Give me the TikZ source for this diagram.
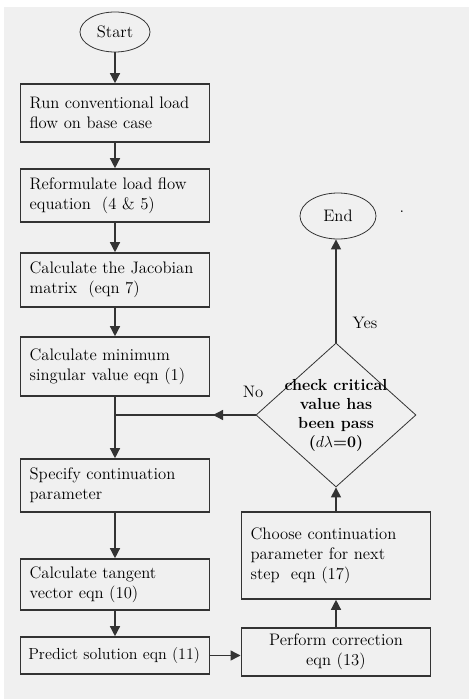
\documentclass[tikz,border=0pt]{standalone}
\usetikzlibrary{shapes.geometric,arrows.meta}
\definecolor{paper}{HTML}{F0F0F0}
\definecolor{ink}{HTML}{333333}
\begin{document}
\begin{tikzpicture}[
  x=0.75pt, y=-0.75pt,
  >={Triangle[length=7.5pt,width=7.5pt]},
  every node/.style={font=\fontsize{12.5}{15}\selectfont},
  procbox/.style={draw=ink, line width=1.2pt, rectangle, inner xsep=7pt,
    text width=128pt, align=left, minimum height=#1},
  termnode/.style={draw=ink, line width=0.6pt, ellipse, inner sep=0pt},
  flow/.style={->, draw=ink, line width=1pt},
]
%\draw[help lines, step=50] (0,0) grid (469,699);

\pgfmathsetmacro\xL{115};
\pgfmathsetmacro\xR{336};

% background
\useasboundingbox (0,0) rectangle (469,699);
\fill[paper] (4,7) rectangle (469,699);

% terminals
\node[termnode, minimum width=52.5pt, minimum height=30pt]
  (start) at (\xL,32) {Start};
\node[termnode, minimum width=57pt, minimum height=34.5pt]
  (end) at (\xR+2,216) {End};

% left column
\node[procbox=43.5pt] (run) at (\xL,113)
  {Run conventional load\\flow on base case};
\node[procbox=39.75pt] (reform) at (\xL,195.5)
  {Reformulate load flow\\equation~ (4 \& 5)};
\node[procbox=40.5pt] (jacob) at (\xL,280)
  {Calculate the Jacobian\\matrix~ (eqn 7)};
\node[procbox=44.25pt] (minsv) at (\xL,366.5)
  {Calculate minimum\\singular value eqn (1)};
\node[procbox=39.75pt] (spec) at (\xL,485.5)
  {Specify continuation\\parameter};
\node[procbox=38.25pt] (tang) at (\xL,584.5)
  {Calculate tangent\\vector eqn (10)};
\node[procbox=27.75pt, text width=130pt, inner xsep=6pt,
  font=\fontsize{12}{15}\selectfont] (pred) at (\xL,655.5)
  {\mbox{Predict solution eqn (11)}};

% right column
\node[procbox=36pt, align=center] (corr) at (\xR,652)
  {Perform correction\\eqn (13)};
\node[procbox=65.25pt] (choose) at (\xR,555.5)
  {Choose continuation\\parameter for next\\step~ eqn (17)};
\node[draw=ink, line width=0.6pt, diamond, inner sep=0pt,
  minimum width=120pt, minimum height=108pt] (check) at (\xR,415) {};
\node[font=\bfseries\fontsize{12}{14.25}\selectfont, align=center]
  (checktext) at (check) {check critical\\value has\\been pass\\($d\lambda$=0)};

% labels
\node (yes) at (365,323) {Yes};
\node (no) at (253,392) {No};
\node (dot) at (402,212) {.};

% arrows
\draw[flow] (start) -- (run);
\draw[flow] (run) -- (reform);
\draw[flow] (reform) -- (jacob);
\draw[flow] (jacob) -- (minsv);
\coordinate (junc) at (\xL,415);
\draw[flow] (minsv) -- (junc) -- (spec);
\draw[flow] (spec) -- (tang);
\draw[flow] (tang) -- (pred);
\draw[flow] (pred.east) -- (pred.east -| corr.west);
\draw[flow] (corr) -- (choose);
\draw[flow] (choose) -- (check);
\draw[flow] (check.north) -- (check.north |- end.south);

% no branch
\coordinate (notip) at (213,415);
\draw[draw=ink, line width=1pt] (check.west) -- (junc);
\draw[flow] (check.west) -- (notip);

\end{tikzpicture}
\end{document}
